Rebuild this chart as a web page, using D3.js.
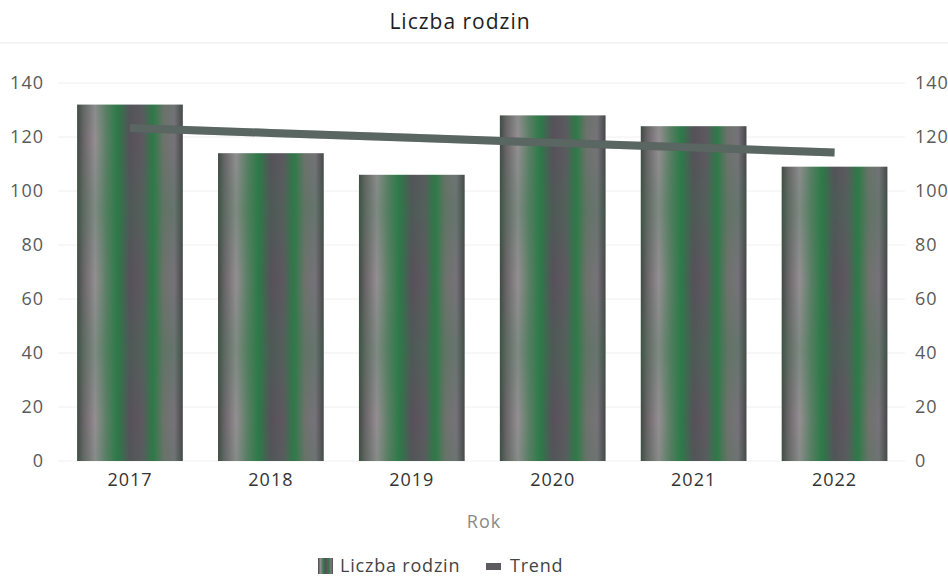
<!DOCTYPE html>
<html><head><meta charset="utf-8">
<script src="https://cdn.jsdelivr.net/npm/d3@7"></script>
<style>body{margin:0;background:#fff;font-family:"Open Sans","Noto Sans",sans-serif}</style>
</head><body><svg id="c" width="948" height="578"></svg>
<script>
const categories = ["2017","2018","2019","2020","2021","2022"];
const barValues = [132,114,106,128,124,109];
const trendValues = [123.3,121.5,119.7,117.9,116.1,114.3];
const yTicks = [0,20,40,60,80,100,120,140];
const title = "Liczba rodzin";
const xTitle = "Rok";
const legendLabels = ["Liczba rodzin","Trend"];

const FONT = "Open Sans, Noto Sans, sans-serif";
const svg = d3.select("#c");
const defs = svg.append("defs");
const g = defs.append("linearGradient").attr("id","barGrad").attr("x1","0").attr("x2","1").attr("y1","0").attr("y2","0");
[[0,"#3f4a42"],[0.06,"#6a6468"],[0.17,"#948e92"],[0.28,"#5a7e64"],[0.38,"#2c7a48"],[0.5,"#57505a"],[0.62,"#5e5860"],[0.72,"#2d7a47"],[0.82,"#6e726c"],[0.92,"#77727a"],[1,"#474548"]]
 .forEach(([o,c])=>g.append("stop").attr("offset",o).attr("stop-color",c));
const g2 = defs.append("linearGradient").attr("id","zig").attr("gradientUnits","userSpaceOnUse")
  .attr("x1",0).attr("x2",0).attr("y1",0).attr("y2",70).attr("spreadMethod","reflect");
[[0,"rgba(46,122,72,0.0)"],[1,"rgba(46,122,72,0.22)"]].forEach(([o,c])=>g2.append("stop").attr("offset",o).attr("stop-color",c));

const x = d3.scaleBand().domain(categories).range([59.5,905]).paddingInner(0.25).paddingOuter(0.125);
const y = d3.scaleLinear().domain([0,140]).range([461,83]);

// title & underline
svg.append("text").attr("x",460).attr("y",29).attr("text-anchor","middle").attr("font-size",21).attr("letter-spacing",1).attr("fill","#1e1e1e").attr("font-family",FONT).text(title);
svg.append("line").attr("x1",0).attr("x2",948).attr("y1",43).attr("y2",43).attr("stroke","#e8e8e8").attr("stroke-width",1);

// grid
svg.append("g").selectAll("line").data(yTicks).join("line")
  .attr("x1",58).attr("x2",905).attr("y1",d=>y(d)).attr("y2",d=>y(d))
  .attr("stroke","#f0f0f0").attr("stroke-width",1);

// left axis
const la = svg.append("g").attr("transform","translate(52,0)").call(d3.axisLeft(y).tickValues(yTicks).tickSize(0).tickPadding(8));
la.select(".domain").remove();
la.selectAll("text").attr("font-size",18).attr("letter-spacing",1).attr("fill","#5a5a5a").attr("font-family",FONT);
// right axis
const ra = svg.append("g").attr("transform","translate(907,0)").call(d3.axisRight(y).tickValues(yTicks).tickSize(0).tickPadding(8));
ra.select(".domain").remove();
ra.selectAll("text").attr("font-size",18).attr("letter-spacing",1).attr("fill","#5a5a5a").attr("font-family",FONT);

// bars
svg.append("g").selectAll("rect").data(categories).join("rect")
  .attr("x",d=>x(d)).attr("width",x.bandwidth())
  .attr("y",(d,i)=>y(barValues[i])).attr("height",(d,i)=>y(0)-y(barValues[i]))
  .attr("fill","url(#barGrad)");
svg.append("g").selectAll("rect").data(categories).join("rect")
  .attr("x",d=>x(d)).attr("width",x.bandwidth())
  .attr("y",(d,i)=>y(barValues[i])).attr("height",(d,i)=>y(0)-y(barValues[i]))
  .attr("fill","url(#zig)");

// bottom axis labels
const ba = svg.append("g").attr("transform","translate(0,461)").call(d3.axisBottom(x).tickSize(0).tickPadding(12));
ba.select(".domain").remove();
ba.selectAll("text").attr("font-size",18).attr("letter-spacing",1).attr("fill","#333").attr("font-family",FONT);

// trend
const line = d3.line().x((d,i)=>x(categories[i])+x.bandwidth()/2).y(d=>y(d));
svg.append("path").datum(trendValues).attr("d",line).attr("fill","none")
  .attr("stroke","#5e5a60").attr("stroke-width",8);
svg.append("path").datum(trendValues).attr("d",line).attr("fill","none")
  .attr("stroke","#4f8a64").attr("stroke-width",8).attr("opacity",0.25);

// x title
svg.append("text").attr("x",484).attr("y",528).attr("text-anchor","middle").attr("font-size",18).attr("letter-spacing",1).attr("fill","#8a8a8a").attr("font-family",FONT).text(xTitle);

// legend
const lg = svg.append("g").attr("font-family",FONT);
lg.append("rect").attr("x",318).attr("y",558).attr("width",15).attr("height",16).attr("fill","url(#barGrad)");
lg.append("text").attr("x",340).attr("y",572).attr("font-size",18).attr("letter-spacing",0.8).attr("fill","#444").text(legendLabels[0]);
lg.append("rect").attr("x",486).attr("y",563).attr("width",15).attr("height",7).attr("fill","#5d5a60");
lg.append("text").attr("x",510).attr("y",572).attr("font-size",18).attr("letter-spacing",0.8).attr("fill","#444").text(legendLabels[1]);
</script></body></html>
